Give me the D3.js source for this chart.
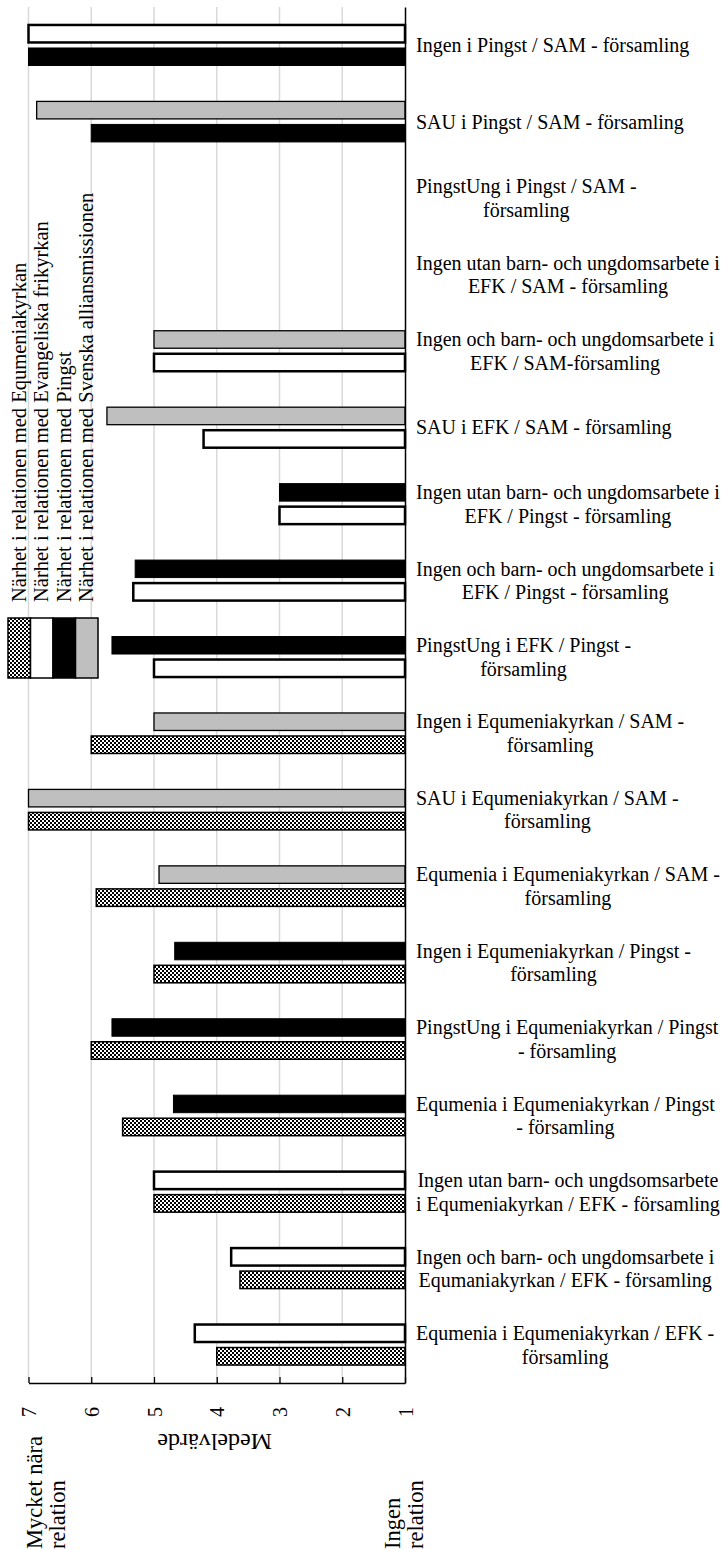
<!DOCTYPE html>
<html>
<head>
<meta charset="utf-8">
<script src="https://cdn.jsdelivr.net/npm/d3@7"></script>
<style>
body { margin: 0; background: #fff; }
text { font-family: "Liberation Serif", "Times New Roman", serif; fill: #000; }
</style>
</head>
<body>
<div id="chart"></div>
<script>
// categories from top to bottom, split in the lines they are shown with
var categoryLines = [
    ['Ingen i Pingst / SAM - församling'],
    ['SAU i Pingst / SAM - församling'],
    ['PingstUng i Pingst / SAM -', 'församling'],
    ['Ingen utan barn- och ungdomsarbete i', 'EFK / SAM - församling'],
    ['Ingen och barn- och ungdomsarbete i', 'EFK / SAM-församling'],
    ['SAU i EFK / SAM - församling'],
    ['Ingen utan barn- och ungdomsarbete i', 'EFK / Pingst - församling'],
    ['Ingen och barn- och ungdomsarbete i', 'EFK / Pingst - församling'],
    ['PingstUng i EFK / Pingst -', 'församling'],
    ['Ingen i Equmeniakyrkan / SAM -', 'församling'],
    ['SAU i Equmeniakyrkan / SAM -', 'församling'],
    ['Equmenia i Equmeniakyrkan / SAM -', 'församling'],
    ['Ingen i Equmeniakyrkan / Pingst -', 'församling'],
    ['PingstUng i Equmeniakyrkan / Pingst', '- församling'],
    ['Equmenia i Equmeniakyrkan / Pingst', '- församling'],
    ['Ingen utan barn- och ungdsomsarbete', 'i Equmeniakyrkan / EFK - församling'],
    ['Ingen och barn- och ungdomsarbete i', 'Equmaniakyrkan / EFK - församling'],
    ['Equmenia i Equmeniakyrkan / EFK -', 'församling']
];
var categories = categoryLines.map(function (l) { return l.join(' '); });

var seriesKeys = ['equmenia', 'efk', 'pingst', 'sam'];
var seriesNames = [
    'Närhet i relationen med Equmeniakyrkan',
    'Närhet i relationen med Evangeliska frikyrkan',
    'Närhet i relationen med Pingst',
    'Närhet i relationen med Svenska alliansmissionen'
];

var equmenia = [null, null, null, null, null, null, null, null, null, 6.0, 7.0, 5.92, 5.0, 6.0, 5.5, 5.0, 3.63, 4.0];
var efk      = [7.0, null, null, null, 5.0, 4.21, 3.0, 5.33, 5.0, null, null, null, null, null, null, 5.0, 3.77, 4.35];
var pingst   = [7.0, 6.0, null, null, null, null, 3.0, 5.3, 5.67, null, null, null, 4.67, 5.67, 4.69, null, null, null];
var sam      = [null, 6.87, null, null, 5.0, 5.75, null, null, null, 5.0, 7.0, 4.92, null, null, null, null, null, null];

// which of the two series sits in the upper slot of each category
var upperSeries = ['efk', 'sam', null, null, 'sam', 'sam', 'pingst', 'pingst', 'pingst',
    'sam', 'sam', 'sam', 'pingst', 'pingst', 'pingst', 'efk', 'efk', 'efk'];

var valueTicks = [7, 6, 5, 4, 3, 2, 1];

var values = { equmenia: equmenia, efk: efk, pingst: pingst, sam: sam };

var width = 726;
var height = 1550;
var plotLeft = 28.5;
var plotRight = 405;
var plotTop = 7;
var plotBottom = 1383;
var labelLeft = 416;

var svg = d3.select('#chart')
    .append('svg')
    .attr('width', width)
    .attr('height', height);

var defs = svg.append('defs');
var checker = defs.append('pattern')
    .attr('id', 'checker')
    .attr('patternUnits', 'userSpaceOnUse')
    .attr('width', 4)
    .attr('height', 4);
checker.append('rect').attr('width', 4).attr('height', 4).style('fill', '#fff');
checker.append('rect').attr('width', 2).attr('height', 2).style('fill', '#000');
checker.append('rect').attr('x', 2).attr('y', 2).attr('width', 2).attr('height', 2).style('fill', '#000');

var fills = { equmenia: 'url(#checker)', efk: '#ffffff', pingst: '#000000', sam: '#bfbfbf' };
var strokeWidths = { equmenia: 1.5, efk: 2.5, pingst: 1, sam: 1.3 };

var x = d3.scaleLinear()
    .domain([7, 1])
    .range([plotLeft, plotRight]);

var y = d3.scaleBand()
    .domain(categories)
    .range([plotTop, plotBottom])
    .paddingInner(0.47)
    .paddingOuter(0.235);

var slot = d3.scaleBand()
    .domain(['upper', 'lower'])
    .range([0, y.bandwidth()])
    .paddingInner(0.24);

// gridlines
svg.append('g')
    .selectAll('line')
    .data(valueTicks.filter(function (v) { return v != 1; }))
    .enter()
    .append('line')
    .attr('x1', function (d) { return x(d); })
    .attr('x2', function (d) { return x(d); })
    .attr('y1', plotTop)
    .attr('y2', plotBottom)
    .style('stroke', '#d9d9d9')
    .style('stroke-width', 1.5);

// bars
var bars = [];
categories.forEach(function (c, i) {
    var present = seriesKeys.filter(function (k) { return values[k][i] != null; });
    present.forEach(function (k) {
        bars.push({
            category: c,
            series: k,
            value: values[k][i],
            slot: k == upperSeries[i] ? 'upper' : 'lower'
        });
    });
});

svg.append('g')
    .selectAll('rect')
    .data(bars)
    .enter()
    .append('rect')
    .attr('x', function (d) { return x(d.value); })
    .attr('y', function (d) { return y(d.category) + slot(d.slot); })
    .attr('width', function (d) { return x(1) - x(d.value); })
    .attr('height', slot.bandwidth())
    .style('fill', function (d) { return fills[d.series]; })
    .style('stroke', '#000')
    .style('stroke-width', function (d) { return strokeWidths[d.series]; });

// value axis along the bottom
var xAxis = svg.append('g')
    .attr('transform', 'translate(0,' + plotBottom + ')')
    .call(d3.axisBottom(x).tickValues(valueTicks).tickFormat(d3.format('d')).tickSizeInner(-6).tickSizeOuter(0));
xAxis.select('.domain').style('stroke', '#000').style('stroke-width', 1.5);
xAxis.selectAll('.tick line').style('stroke', '#000').style('stroke-width', 1.3);
xAxis.selectAll('.tick text')
    .attr('y', 0)
    .attr('dy', '0.35em')
    .attr('transform', 'translate(0,29) rotate(-90)')
    .style('text-anchor', 'middle')
    .style('font-size', '20px')
    .style('font-family', '"Liberation Serif", serif');

// category axis on the right
var yAxis = svg.append('g')
    .attr('transform', 'translate(' + plotRight + ',0)')
    .call(d3.axisRight(y).tickValues([]).tickSizeOuter(0));
yAxis.select('.domain').style('stroke', '#000').style('stroke-width', 1.5);

// category labels, lines centred inside a box starting at labelLeft
var labelGroups = svg.append('g')
    .selectAll('g')
    .data(categories)
    .enter()
    .append('g');

labelGroups.each(function (c, i) {
    var g = d3.select(this);
    var lines = categoryLines[i];
    var cy = y(c) + y.bandwidth() / 2;
    var texts = g.selectAll('text')
        .data(lines)
        .enter()
        .append('text')
        .attr('y', function (d, j) { return cy + (j - (lines.length - 1) / 2) * 23.5; })
        .attr('dy', '0.35em')
        .style('font-size', '20px')
        .style('text-anchor', 'middle')
        .text(function (d) { return d; });
    var maxW = 0;
    texts.each(function () { maxW = Math.max(maxW, this.getComputedTextLength()); });
    texts.attr('x', labelLeft + maxW / 2);
});

// axis title, upside down
svg.append('text')
    .attr('transform', 'translate(' + ((plotLeft + plotRight) / 2 - 2) + ',1442) rotate(180)')
    .attr('dy', '0.35em')
    .style('text-anchor', 'middle')
    .style('font-size', '24px')
    .text('Medelvärde');

// end labels of the scale
function endLabel(xPos, lines) {
    var t = svg.append('text')
        .attr('transform', 'translate(' + xPos + ',1549) rotate(-90)')
        .style('font-size', '22.5px')
        .style('text-anchor', 'start');
    lines.forEach(function (l, j) {
        t.append('tspan')
            .attr('x', 0)
            .attr('y', j * 22.5)
            .text(l);
    });
}
endLabel(42, ['Mycket nära', 'relation']);
endLabel(400, ['Ingen', 'relation']);

// legend
var legendTop = 618;
var legendBottom = 678;
var legendX = d3.scaleBand()
    .domain(seriesKeys)
    .range([8, 98]);

var legend = svg.append('g');
legend.selectAll('rect')
    .data(seriesKeys)
    .enter()
    .append('rect')
    .attr('x', function (d) { return legendX(d); })
    .attr('y', legendTop)
    .attr('width', legendX.bandwidth())
    .attr('height', legendBottom - legendTop)
    .style('fill', function (d) { return fills[d]; })
    .style('stroke', '#000')
    .style('stroke-width', 1.5);

legend.selectAll('text')
    .data(seriesKeys)
    .enter()
    .append('text')
    .attr('transform', function (d) {
        return 'translate(' + (legendX(d) + legendX.bandwidth() / 2 + 6.5) + ',602) rotate(-90)';
    })
    .style('font-size', '20.5px')
    .text(function (d, i) { return seriesNames[i]; });
</script>
</body>
</html>
